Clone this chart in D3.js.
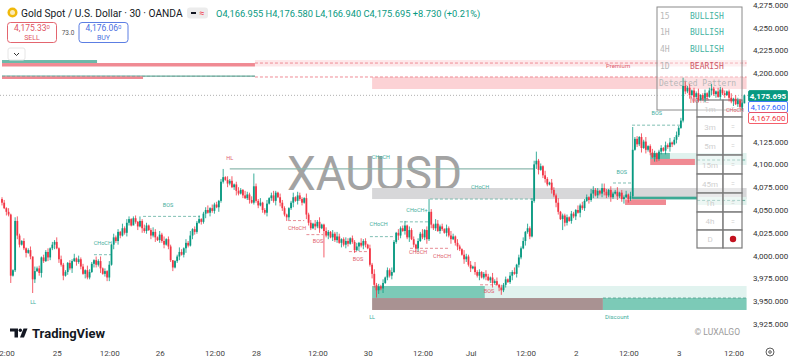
<!DOCTYPE html>
<html>
<head>
<meta charset="utf-8">
<title>XAUUSD 30m</title>
<script src="https://cdn.jsdelivr.net/npm/d3@7"></script>
<style>
body { margin: 0; background: #fff; }
svg text { font-family: Roboto, "Noto Sans", sans-serif; }
.mono { font-family: "DejaVu Sans Mono", monospace !important; }
</style>
</head>
<body>
<script>
// 30 minute closes (open = previous close)
var closes = [
4058,4052,4048,4045,3978,3984,4038,4022,4012,4016,
4008,4003,4006,3999,3974,3983,3986,3981,3998,3994,
4004,3998,4008,4012,4015,4008,3996,3990,3978,3982,
3992,3986,3994,3997,3993,3996,3988,3980,3984,3976,
3982,3991,3995,3990,3994,3986,3980,3983,3976,3990,
4012,4020,4016,4026,4022,4030,4025,4036,4040,4033,
4041,4037,4032,4038,4030,4027,4033,4028,4022,4026,
4020,4017,4023,4016,4012,4018,4010,3995,3987,3994,
3999,4004,4001,4008,4014,4011,4022,4029,4026,4036,
4040,4037,4046,4050,4047,4052,4049,4056,4053,4060,
4081,4086,4083,4079,4082,4075,4078,4071,4068,4072,
4066,4063,4067,4061,4058,4076,4060,4055,4058,4050,
4047,4057,4063,4066,4060,4069,4064,4058,4052,4045,
4042,4052,4058,4064,4060,4066,4062,4058,4063,4045,
4036,4030,4035,4032,4037,4030,4034,4027,4022,4026,
4020,4024,4017,4021,4014,4018,4012,4016,4013,4019,
4015,4006,4010,4014,4011,4016,4012,4008,3990,3980,
3968,3962,3966,3964,3970,3976,3984,3978,3982,4015,
4025,4022,4030,4027,4033,4020,4028,4018,4012,4008,
4016,4024,4020,4028,4018,4048,4034,4030,4035,4027,
4032,4029,4025,4030,4022,4018,4021,4014,4010,4007,
4001,3996,3999,3990,3986,3988,3982,3978,3982,3976,
3980,3977,3973,3976,3970,3972,3968,3965,3962,3968,
3974,3971,3978,3982,3980,3990,3998,4008,4016,4026,
4030,4021,4060,4100,4104,4094,4098,4088,4084,4078,
4080,4072,4066,4058,4048,4040,4044,4036,4042,4038,
4046,4043,4050,4047,4055,4052,4060,4064,4061,4068,
4072,4066,4071,4068,4074,4070,4066,4072,4064,4068,
4070,4065,4069,4062,4064,4067,4062,4065,4116,4128,
4122,4130,4118,4125,4116,4120,4113,4108,4112,4106,
4114,4118,4115,4121,4119,4124,4122,4127,4132,4140,
4148,4186,4180,4184,4176,4181,4174,4178,4171,4176,
4172,4178,4174,4181,4183,4177,4180,4174,4182,4178,
4176,4180,4173,4169,4172,4166,4170,4163,4166.955,4175.695
];
var firstOpen = 4062;
// wick lengths in dollars above / below the body, one digit per bar
var wickUp = "2314213521 3124152313 2413251432 1325142315 3214251324 1423152431 2315243125 3142513241 2531425132 4123514231 3214251342 1532413251 2413521432 3125143215 2314251342 1425312431 3241523142 5132413252 1423514231 3251423154 2314253142 1532415231 2431524132 3142513241 5231423152 1432514231 3215242315 4231523142 2513241532 3142512431 2314251342 3152413251 2413521432 3125143215";
var wickDn = "3142512431 2513241352 1432514231 3251423152 2143251324 1524312431 3241523142 5132413251 2413521432 1325142315 2314213521 3124152313 2413251432 1325142315 3214251324 1423152431 2315243125 3142513241 2531425132 4123514231 3214251342 1532413251 2413521432 3125143215 2314251342 1425312431 3241523142 5132413252 1423514231 3251423154 2314253142 1532415231 2431524132 3142513241";
// bars with long wicks: [high, low]
var bigWicks = {
  4: [4046, 3970], 6: [4042, 3982], 14: [3999, 3959], 28: [3992, 3973], 48: [3984, 3972],
  60: [4043, 4035], 78: [3995, 3983], 101: [4095, 4079], 115: [4090, 4056], 130: [4046, 4038],
  147: [4035, 3998], 171: [3970, 3954], 189: [4013, 4004], 195: [4062, 4016], 228: [3968, 3957],
  243: [4104, 4058], 244: [4114, 4095], 256: [4046, 4028], 275: [4079, 4066], 288: [4141, 4063],
  299: [4113, 4103], 311: [4195, 4146], 339: [4176.58, 4166.94]
};

// 4,150 and 4,175 sit under the price tags, so they are not shown
var yTicks = [3925, 3950, 3975, 4000, 4025, 4050, 4075, 4100, 4125, 4200, 4225, 4250, 4275];
var xTickIdx = [1, 25, 49, 72, 97, 116, 144, 167, 192, 214, 239, 262, 286, 309, 334];
var xTickLabels = ["12:00", "25", "12:00", "26", "12:00", "28", "12:00", "30", "12:00", "Jul", "12:00", "2", "12:00", "3", "12:00"];

// smart money zones: bar index range and price range
var zones = [
  {i0: 115.5, i1: 340, p0: 4214.4, p1: 4207.3, fill: "#fde8ea"},
  {i0: 0, i1: 43.4, p0: 4214.4, p1: 4211.1, fill: "#6cb9a9"},
  {i0: 0, i1: 115.5, p0: 4211.1, p1: 4207.3, fill: "#f08a93"},
  {i0: 0, i1: 115.5, p0: 4197.6, p1: 4195.8, fill: "#8cc3b6"},
  {i0: 0, i1: 64.4, p0: 4196.6, p1: 4193.6, fill: "#f08a93"},
  {i0: 169, i1: 340, p0: 4195.8, p1: 4182.6, fill: "#fcd2d5"},
  {i0: 169, i1: 340, p0: 4074.1, p1: 4062.0, fill: "#d7d7d9"},
  {i0: 296, i1: 340, p0: 4112.5, p1: 4099.3, fill: "#e0f2ee"},
  {i0: 296, i1: 305, p0: 4112.5, p1: 4105.4, fill: "#6cc2ae"},
  {i0: 296, i1: 316.4, p0: 4106.0, p1: 4099.3, fill: "#f08a93"},
  {i0: 317.4, i1: 340, p0: 4064.3, p1: 4055.5, fill: "#dff1ec"},
  {i0: 287.7, i1: 317.4, p0: 4064.6, p1: 4061.6, fill: "#3ba994"},
  {i0: 284.5, i1: 303.2, p0: 4061.6, p1: 4055.5, fill: "#f08a93"},
  {i0: 169, i1: 220.5, p0: 3966.7, p1: 3953.5, fill: "#7ccab7"},
  {i0: 220.5, i1: 340, p0: 3966.7, p1: 3953.5, fill: "#e1f3ef"},
  {i0: 169, i1: 274.4, p0: 3953.5, p1: 3940.4, fill: "#a99292"},
  {i0: 274.4, i1: 340, p0: 3953.5, p1: 3940.4, fill: "#7ccab7"}
];

// structure levels
var levels = [
  {i0: 115.5, i1: 340, p: 4211.1, color: "#ef8b94", dash: "3,2", w: 1},
  {i0: 115.5, i1: 340, p: 4195.8, color: "#ef8b94", dash: "3,2", w: 1},
  {i0: 0, i1: 115.5, p: 4196.6, color: "#7b9d96", dash: "3,2", w: 0.7},
  {i0: 42, i1: 50, p: 4001, color: "#5fae9f", dash: "3,2", w: 0.8},
  {i0: 64.4, i1: 90.4, p: 4043, color: "#5fae9f", dash: "3,2", w: 0.8},
  {i0: 130.6, i1: 138, p: 4038.4, color: "#e0707b", dash: "3,2", w: 0.8},
  {i0: 139, i1: 146.6, p: 4023, color: "#e0707b", dash: "3,2", w: 0.8},
  {i0: 158.4, i1: 166.7, p: 4004.4, color: "#e0707b", dash: "3,2", w: 0.8},
  {i0: 168, i1: 179.5, p: 4020.8, color: "#5fae9f", dash: "3,2", w: 0.8},
  {i0: 181.7, i1: 195.4, p: 4037, color: "#5fae9f", dash: "3,2", w: 0.8},
  {i0: 186.3, i1: 204.6, p: 4008, color: "#e0707b", dash: "3,2", w: 0.8},
  {i0: 195.4, i1: 242.5, p: 4062, color: "#5fae9f", dash: "3,2", w: 0.8},
  {i0: 218.3, i1: 226, p: 3968, color: "#e0707b", dash: "3,2", w: 0.8},
  {i0: 279, i1: 287.7, p: 4079.6, color: "#5fae9f", dash: "3,2", w: 0.8},
  {i0: 287.7, i1: 309.6, p: 4143, color: "#5fae9f", dash: "3,2", w: 0.8},
  {i0: 104, i1: 243, p: 4095, color: "#8db8ae", dash: null, w: 1.3},
  {i0: 274.4, i1: 340, p: 3953.5, color: "#4f9e8e", dash: "3,2", w: 0.8},
  {i0: 317.4, i1: 340, p: 4104.8, color: "#4f9e8e", dash: "3,2", w: 0.8},
  {i0: 317.4, i1: 340, p: 4060.5, color: "#4f9e8e", dash: "3,2", w: 0.8}
];

var teal = "#3fae9c", red = "#e0606c";
var labels = [
  {t: "LL", i: 14.2, p: 3947, c: teal},
  {t: "CHoCH", i: 46, p: 4011.6, c: teal},
  {t: "BOS", i: 75.8, p: 4053.3, c: teal},
  {t: "HL", i: 104, p: 4104.8, c: red},
  {t: "CHoCH", i: 134.7, p: 4028, c: red},
  {t: "BOS", i: 144.3, p: 4013.8, c: red},
  {t: "BOS", i: 162.6, p: 3994, c: red},
  {t: "CHoCH", i: 172, p: 4032.4, c: teal},
  {t: "CHoCH+", i: 189.5, p: 4047.8, c: teal},
  {t: "CHoCH", i: 173, p: 4105.9, c: teal},
  {t: "CHoCH", i: 218.3, p: 4073, c: teal},
  {t: "CHoCH", i: 190, p: 4001.8, c: red},
  {t: "CHoCH", i: 201, p: 3997.4, c: red},
  {t: "BOS", i: 222.4, p: 3959, c: red},
  {t: "BOS", i: 283, p: 4089.4, c: teal},
  {t: "BOS", i: 299, p: 4154, c: teal},
  {t: "CHoCH", i: 334.7, p: 4157.4, c: red},
  {t: "LL", i: 169, p: 3930.4, c: teal},
  {t: "Discount", i: 280.8, p: 3930.4, c: teal},
  {t: "Premium", i: 281.3, p: 4205.6, c: red}
];

var trendRows = [["15", "BULLISH"], ["1H", "BULLISH"], ["4H", "BULLISH"], ["1D", "BEARISH"]];
var tfRows = ["1m", "3m", "5m", "15m", "45m", "1h", "4h", "D"];

var width = 794, height = 362;
var svg = d3.select("body").append("svg")
  .attr("width", width).attr("height", height);

var x = d3.scaleLinear().domain([0, 339]).range([2, 744.4]);
var y = d3.scaleLinear().domain([3905.3, 4280.2]).range([342, 0]);

// watermark
svg.append("text")
  .attr("x", 287).attr("y", 190)
  .attr("textLength", 175).attr("lengthAdjust", "spacingAndGlyphs")
  .attr("font-size", 49).attr("fill", "#a3a3a3")
  .text("XAUUSD");

// zones
svg.append("g").selectAll("rect")
  .data(zones).enter().append("rect")
  .attr("x", function(d){ return x(d.i0); })
  .attr("width", function(d){ return x(d.i1) - x(d.i0); })
  .attr("y", function(d){ return y(d.p0); })
  .attr("height", function(d){ return y(d.p1) - y(d.p0); })
  .attr("fill", function(d){ return d.fill; });

// levels
svg.append("g").selectAll("line")
  .data(levels).enter().append("line")
  .attr("x1", function(d){ return x(d.i0); })
  .attr("x2", function(d){ return x(d.i1); })
  .attr("y1", function(d){ return y(d.p); })
  .attr("y2", function(d){ return y(d.p); })
  .attr("stroke", function(d){ return d.color; })
  .attr("stroke-width", function(d){ return d.w; })
  .attr("stroke-dasharray", function(d){ return d.dash; });

// last price dotted line
var lastClose = closes[closes.length - 1];
svg.append("line")
  .attr("x1", 0).attr("x2", 748)
  .attr("y1", y(lastClose)).attr("y2", y(lastClose))
  .attr("stroke", "#9a9a9a").attr("stroke-width", 0.8)
  .attr("stroke-dasharray", "1,2");

// trend table
var tt = svg.append("g");
tt.append("rect").attr("x", 657).attr("y", 7).attr("width", 85).attr("height", 103)
  .attr("fill", "rgba(255,255,255,0.35)").attr("stroke", "#8a8a8a").attr("stroke-width", 1);
trendRows.forEach(function(r, k) {
  tt.append("text").attr("class", "mono").attr("x", 660).attr("y", 18.5 + k * 16.8)
    .attr("font-size", 8).attr("fill", "#b8b8b8").text(r[0]);
  tt.append("text").attr("class", "mono").attr("x", 690).attr("y", 18.5 + k * 16.8)
    .attr("font-size", 8).attr("fill", r[1] == "BULLISH" ? "#3fb3a2" : "#cf5a69").text(r[1]);
});
tt.append("text").attr("class", "mono").attr("x", 659).attr("y", 86)
  .attr("font-size", 8).attr("fill", "#b8b8b8").text("Detected Pattern");
tt.append("text").attr("class", "mono").attr("x", 690).attr("y", 103)
  .attr("font-size", 8).attr("fill", "#d9707c").text("None");

// timeframe table
var rowLines = [100, 117, 136, 155, 174, 193, 212, 230, 248];
var tf = svg.append("g");
tfRows.forEach(function(t, k) {
  var y0 = rowLines[k], y1 = rowLines[k + 1];
  tf.append("rect").attr("x", 697).attr("y", y0).attr("width", 26).attr("height", y1 - y0)
    .attr("fill", "rgba(255,255,255,0.45)").attr("stroke", "#7a7a7a").attr("stroke-width", 1.2);
  tf.append("rect").attr("x", 723).attr("y", y0).attr("width", 19).attr("height", y1 - y0)
    .attr("fill", "rgba(255,255,255,0.45)").attr("stroke", "#7a7a7a").attr("stroke-width", 1.2);
  tf.append("text").attr("x", 710).attr("y", (y0 + y1) / 2 + 3).attr("text-anchor", "middle")
    .attr("font-size", 8).attr("fill", "#cfcfcf").text(t);
  if (t == "D") {
    tf.append("circle").attr("cx", 733).attr("cy", (y0 + y1) / 2).attr("r", 3.2).attr("fill", "#c3121f");
  } else {
    tf.append("text").attr("x", 733).attr("y", (y0 + y1) / 2 + 2.5).attr("text-anchor", "middle")
      .attr("font-size", 7).attr("fill", "#cfcfcf").text("=");
  }
});

// candles
var upDigits = wickUp.replace(/\s/g, ""), dnDigits = wickDn.replace(/\s/g, "");
var bars = closes.map(function(c, i) {
  var o = i ? closes[i - 1] : firstOpen;
  var h = Math.max(o, c) + (+upDigits[i] || 0);
  var l = Math.min(o, c) - (+dnDigits[i] || 0);
  if (bigWicks[i]) { h = bigWicks[i][0]; l = bigWicks[i][1]; }
  return {i: i, o: o, h: h, l: l, c: c};
});
var cg = svg.append("g");
cg.selectAll("line")
  .data(bars).enter().append("line")
  .attr("x1", function(d){ return x(d.i); })
  .attr("x2", function(d){ return x(d.i); })
  .attr("y1", function(d){ return y(d.h); })
  .attr("y2", function(d){ return y(d.l); })
  .attr("stroke", function(d){ return d.c >= d.o ? "#089981" : "#f23645"; })
  .attr("stroke-width", 0.8);
cg.selectAll("rect")
  .data(bars).enter().append("rect")
  .attr("x", function(d){ return x(d.i) - 0.9; })
  .attr("width", 1.8)
  .attr("y", function(d){ return y(Math.max(d.o, d.c)); })
  .attr("height", function(d){ return Math.max(0.8, Math.abs(y(d.o) - y(d.c))); })
  .attr("fill", function(d){ return d.c >= d.o ? "#089981" : "#f23645"; });

// structure labels
svg.append("g").selectAll("text")
  .data(labels).enter().append("text")
  .attr("x", function(d){ return x(d.i); })
  .attr("y", function(d){ return y(d.p); })
  .attr("text-anchor", "middle")
  .attr("font-size", function(d){ return d.t == "Premium" || d.t == "Discount" ? 6 : 5.5; })
  .attr("fill", function(d){ return d.c; })
  .text(function(d){ return d.t; });

// price axis
var ya = svg.append("g").attr("transform", "translate(752,0)")
  .call(d3.axisRight(y).tickValues(yTicks).tickSize(0).tickFormat(d3.format(",.3f")));
ya.select(".domain").remove();
ya.selectAll("text").attr("font-size", 8).attr("fill", "#333").attr("x", 1)
  .style("font-family", "Roboto, sans-serif");

// time axis
var xa = svg.append("g").attr("transform", "translate(0,347)")
  .call(d3.axisBottom(x).tickValues(xTickIdx).tickSize(0)
    .tickFormat(function(d, k){ return xTickLabels[k]; }));
xa.select(".domain").remove();
xa.selectAll("text").attr("font-size", 8).attr("fill", "#444")
  .style("font-family", "Roboto, sans-serif");

// price tags
var tags = [
  {t: d3.format(",.3f")(lastClose), y: 96, fill: "#089981", stroke: "#089981", color: "#fff", bold: true},
  {t: "4,167.600", y: 107, fill: "#fff", stroke: "#2962ff", color: "#2962ff", bold: false},
  {t: "4,167.600", y: 118, fill: "#fff", stroke: "#f23645", color: "#f23645", bold: false}
];
tags.forEach(function(d) {
  svg.append("rect").attr("x", 748.5).attr("y", d.y - 5.5).attr("width", 39).attr("height", 11)
    .attr("rx", 1.5).attr("fill", d.fill).attr("stroke", d.stroke).attr("stroke-width", 0.8);
  svg.append("text").attr("x", 768).attr("y", d.y + 3).attr("text-anchor", "middle")
    .attr("font-size", 8).attr("font-weight", d.bold ? "bold" : "normal")
    .attr("fill", d.color).text(d.t);
});

// header
svg.append("circle").attr("cx", 12.5).attr("cy", 12.5).attr("r", 5).attr("fill", "#f0b90b");
svg.append("circle").attr("cx", 12.5).attr("cy", 12.5).attr("r", 2.5).attr("fill", "#fff").attr("opacity", 0.7);
svg.append("text").attr("x", 21).attr("y", 16.5).attr("font-size", 10.2).attr("fill", "#131722")
  .text("Gold Spot / U.S. Dollar \u00b7 30 \u00b7 OANDA");
svg.append("rect").attr("x", 187).attr("y", 7.5).attr("width", 21).attr("height", 11)
  .attr("rx", 3).attr("fill", "#ececec");
svg.append("rect").attr("x", 191).attr("y", 12).attr("width", 5).attr("height", 2).attr("fill", "#131722");
svg.append("text").attr("x", 202).attr("y", 16).attr("text-anchor", "middle")
  .attr("font-size", 9).attr("fill", "#f23645").text("\u2248");
svg.append("text").attr("x", 216).attr("y", 16.5).attr("font-size", 9.3).attr("fill", "#089981")
  .text("O4,166.955 H4,176.580 L4,166.940 C4,175.695 +8.730 (+0.21%)");

// sell / buy buttons
function button(x0, color, price, word) {
  svg.append("rect").attr("x", x0).attr("y", 22.5).attr("width", 49).attr("height", 20)
    .attr("rx", 3).attr("fill", "#fff").attr("stroke", color).attr("stroke-width", 0.9);
  var t = svg.append("text").attr("x", x0 + 24.5).attr("y", 31).attr("text-anchor", "middle")
    .attr("font-size", 8.5).attr("fill", color);
  t.append("tspan").text(price);
  t.append("tspan").attr("font-size", 6).attr("dy", -2.5).text("0");
  svg.append("text").attr("x", x0 + 24.5).attr("y", 40).attr("text-anchor", "middle")
    .attr("font-size", 7).attr("fill", color).text(word);
}
button(7.5, "#e0545f", "4,175.33", "SELL");
button(79, "#4a6fe0", "4,176.06", "BUY");
svg.append("text").attr("x", 68).attr("y", 35).attr("text-anchor", "middle")
  .attr("font-size", 6.5).attr("fill", "#555").text("73.0");
svg.append("rect").attr("x", 8).attr("y", 48).attr("width", 17).attr("height", 12)
  .attr("rx", 2).attr("fill", "#fff").attr("stroke", "#e6e6e6");
svg.append("path").attr("d", "M14,53 L16.5,55.5 L19,53").attr("fill", "none")
  .attr("stroke", "#333").attr("stroke-width", 1);

// TradingView logo
var lg = svg.append("g").attr("fill", "#131722");
lg.append("path").attr("d", "M10,328.5 H18 V337.5 H14.5 V331.5 H10 Z");
lg.append("circle").attr("cx", 20.3).attr("cy", 330.2).attr("r", 1.7);
lg.append("path").attr("d", "M23.5,328.5 H27.5 L24,337.5 H20 Z");
svg.append("text").attr("x", 32).attr("y", 338).attr("font-size", 13)
  .attr("font-weight", "bold").attr("fill", "#131722").text("TradingView");

svg.append("text").attr("x", 740).attr("y", 335).attr("text-anchor", "end")
  .attr("font-size", 8.5).attr("fill", "#9a9a9a").text("\u00a9 LUXALGO");

// settings icon
svg.append("circle").attr("cx", 770).attr("cy", 352).attr("r", 4).attr("fill", "none")
  .attr("stroke", "#333").attr("stroke-width", 0.8);
svg.append("circle").attr("cx", 770).attr("cy", 352).attr("r", 1.3).attr("fill", "none")
  .attr("stroke", "#333").attr("stroke-width", 0.8);
</script>
</body>
</html>
